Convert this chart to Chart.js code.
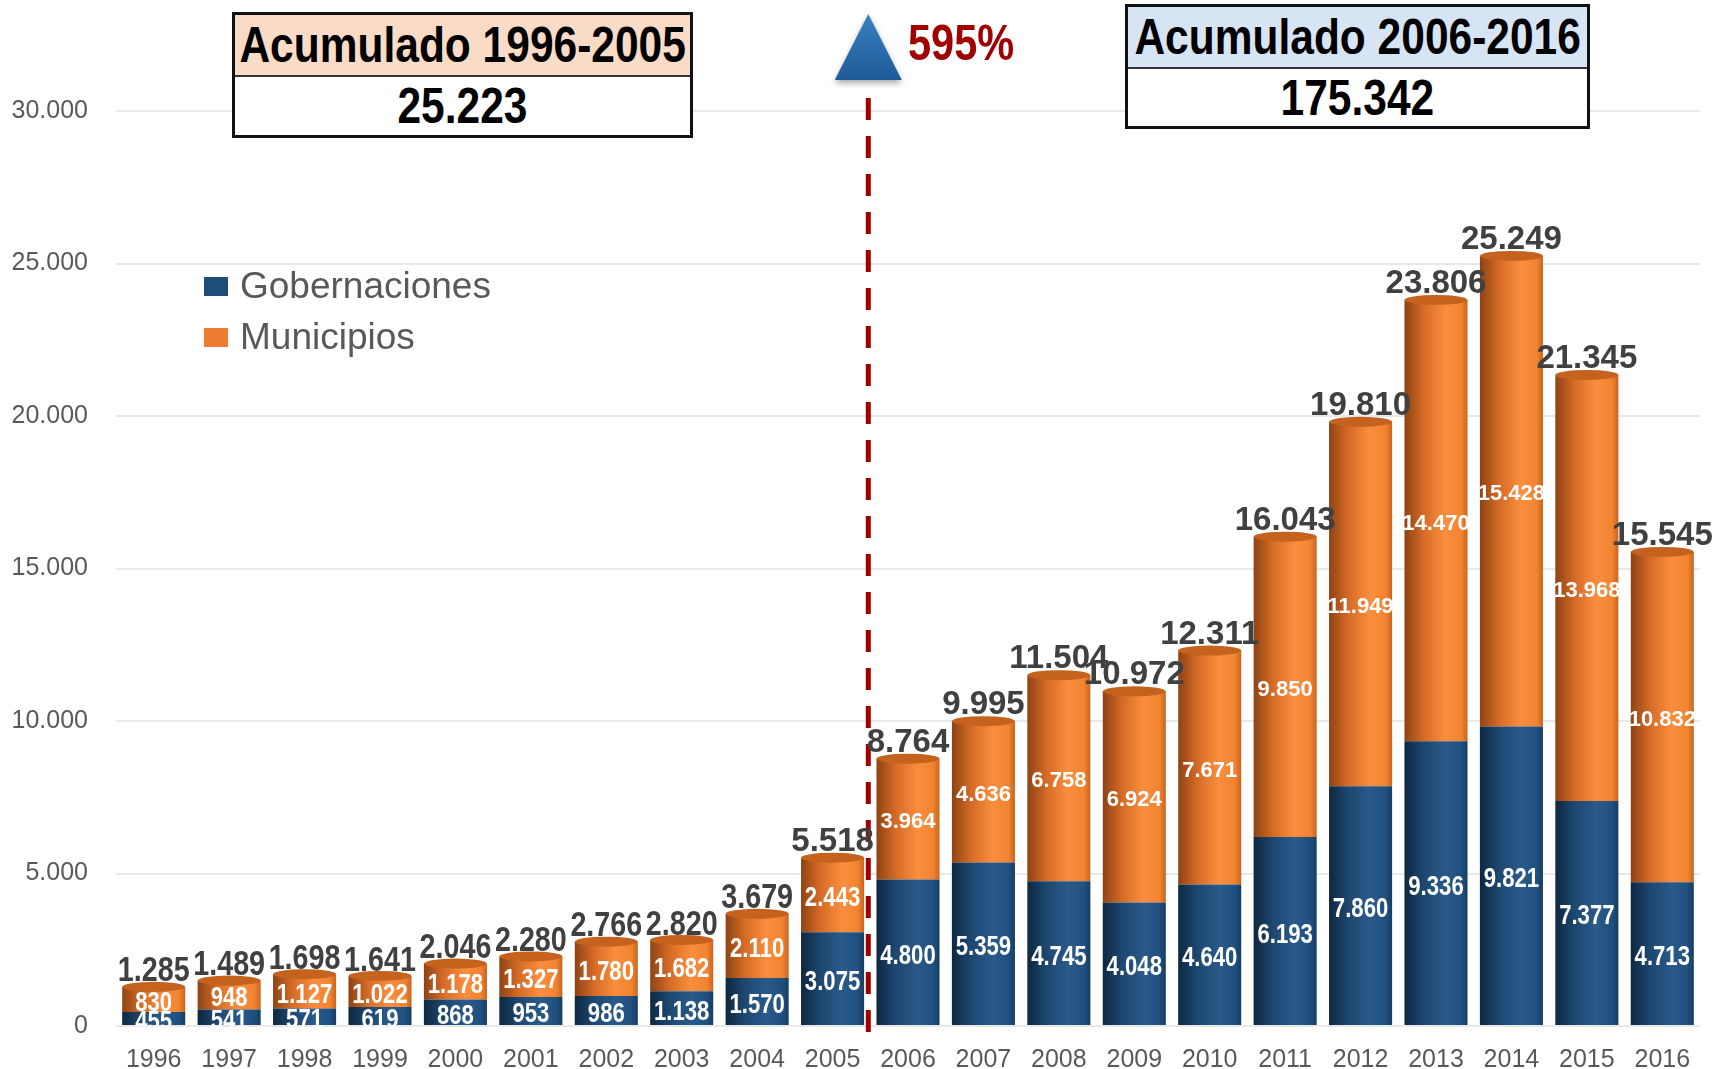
<!DOCTYPE html>
<html>
<head>
<meta charset="utf-8">
<title>Gobernaciones y Municipios 1996-2016</title>
<script src="https://cdn.jsdelivr.net/npm/chart.js@4.4.1/dist/chart.umd.min.js"></script>
<style>
  body { margin: 0; background: #fff; }
  #wrap { position: relative; width: 1727px; height: 1069px; overflow: hidden; }
  #chart { position: absolute; left: 0; top: 0; }
  .box {
    position: absolute; box-sizing: border-box; border: 3px solid #111; background: #fff;
    font-family: 'Liberation Sans', Arial, sans-serif;
    font-weight: bold; color: #000; white-space: nowrap;
  }
  .box .head, .box .val { display: flex; justify-content: center; align-items: center; font-size: 50px; }
  .box .head { height: 60px; border-bottom: 2px solid #333; }
  .box .val { height: 58px; }
  .narrow { display: inline-block; transform: scaleX(0.85); transform-origin: center; }
  #pct {
    position: absolute; left: 908px; top: 14px; font-size: 50px; font-weight: bold; color: #A00000;
    font-family: 'Liberation Sans', Arial, sans-serif; transform: scaleX(0.83); transform-origin: left center;
  }
  .leg { position: absolute; left: 204px; font-family: 'Liberation Sans', Arial, sans-serif; font-size: 37px; color: #595959; }
  .leg span { display: inline-block; width: 24px; height: 19px; margin-right: 12px; vertical-align: 2px; }
</style>
</head>
<body>
<div id="wrap">
  <canvas id="chart" width="1727" height="1069"></canvas>

  <div class="box" style="left:232px; top:12px; width:461px; height:126px;">
    <div class="head" style="background:#FADBC5;"><span class="narrow">Acumulado 1996-2005</span></div>
    <div class="val"><span class="narrow">25.223</span></div>
  </div>
  <div class="box" style="left:1125px; top:4px; width:465px; height:125px;">
    <div class="head" style="background:#D6E4F4;"><span class="narrow">Acumulado 2006-2016</span></div>
    <div class="val"><span class="narrow">175.342</span></div>
  </div>
  <div id="pct">595%</div>

  <div class="leg" style="top:265px;"><span style="background:#1F4E79;"></span>Gobernaciones</div>
  <div class="leg" style="top:316px;"><span style="background:#ED7D31;"></span>Municipios</div>
</div>

<script>
// years on the x axis
const years = ['1996', '1997', '1998', '1999', '2000', '2001', '2002', '2003', '2004', '2005',
               '2006', '2007', '2008', '2009', '2010', '2011', '2012', '2013', '2014', '2015', '2016'];

// Gobernaciones (bottom, blue)
const gobernaciones = [455, 541, 571, 619, 868, 953, 986, 1138, 1570, 3075,
                       4800, 5359, 4745, 4048, 4640, 6193, 7860, 9336, 9821, 7377, 4713];

// Municipios (top, orange)
const municipios = [830, 948, 1127, 1022, 1178, 1327, 1780, 1682, 2110, 2443,
                    3964, 4636, 6758, 6924, 7671, 9850, 11949, 14470, 15428, 13968, 10832];

// totals written above each bar
const totales = [1285, 1489, 1698, 1641, 2046, 2280, 2766, 2820, 3679, 5518,
                 8764, 9995, 11504, 10972, 12311, 16043, 19810, 23806, 25249, 21345, 15545];

const yTicks = [0, 5000, 10000, 15000, 20000, 25000, 30000];

const BAR_PCT = 0.836;
const SANS = '"Liberation Sans", Arial, sans-serif';

function fmt(v) {
  return String(v).replace(/\B(?=(\d{3})+(?!\d))/g, '.');
}

// no narrow font installed, so squeeze the normal one
function drawText(ctx, text, x, y, font, squeeze) {
  ctx.save();
  ctx.translate(x, y);
  ctx.scale(squeeze, 1);
  ctx.font = font;
  ctx.fillText(text, 0, 0);
  ctx.restore();
}

// horizontal gradient across one bar so it looks like a cylinder
function cylinder(stops, flat) {
  return function (c) {
    const chart = c.chart;
    const xs = chart.scales.x;
    if (!xs || !xs.width) return flat;
    const cx = xs.getPixelForValue(c.dataIndex);
    const half = xs.width / years.length * BAR_PCT / 2;
    const g = chart.ctx.createLinearGradient(cx - half, 0, cx + half, 0);
    stops.forEach(s => g.addColorStop(s[0], s[1]));
    return g;
  };
}

const blueStops = [[0, '#0E2740'], [0.3, '#1D4770'], [0.65, '#2A5A8A'], [0.9, '#20507E'], [1, '#173D62']];
const orangeStops = [[0, '#8E4314'], [0.3, '#D46A26'], [0.65, '#FA8E3E'], [0.9, '#F2842F'], [1, '#C9641F']];

const annotations = {
  id: 'annotations',
  afterDatasetsDraw(chart) {
    const ctx = chart.ctx;
    const xs = chart.scales.x;
    const blue = chart.getDatasetMeta(0).data;
    const orange = chart.getDatasetMeta(1).data;

    // rim at the top of every cylinder
    orange.forEach(el => {
      ctx.save();
      ctx.beginPath();
      ctx.ellipse(el.x, el.y, el.width / 2, 5, 0, 0, Math.PI * 2);
      ctx.fillStyle = '#C4621E';
      ctx.fill();
      ctx.restore();
    });

    // dashed separator between 2005 and 2006
    const lx = (xs.getPixelForValue(9) + xs.getPixelForValue(10)) / 2 - 2;
    ctx.save();
    ctx.strokeStyle = '#A00000';
    ctx.lineWidth = 5;
    ctx.setLineDash([22, 16]);
    ctx.beginPath();
    ctx.moveTo(lx, 98);
    ctx.lineTo(lx, 1036);
    ctx.stroke();
    ctx.restore();

    // triangle on top of the separator
    ctx.save();
    ctx.shadowColor = 'rgba(0,0,0,0.35)';
    ctx.shadowBlur = 6;
    ctx.shadowOffsetY = 3;
    const tg = ctx.createLinearGradient(0, 14, 0, 80);
    tg.addColorStop(0, '#3A80C0');
    tg.addColorStop(1, '#1D5A96');
    ctx.fillStyle = tg;
    ctx.beginPath();
    ctx.moveTo(lx, 14);
    ctx.lineTo(lx + 33.5, 80);
    ctx.lineTo(lx - 33.5, 80);
    ctx.closePath();
    ctx.fill();
    ctx.restore();

    // value labels
    ctx.save();
    ctx.textAlign = 'center';
    ctx.textBaseline = 'middle';
    ctx.fillStyle = '#fff';
    blue.forEach((el, i) => {
      drawText(ctx, fmt(gobernaciones[i]), el.x, (el.y + el.base) / 2 + 4, 'bold 27px ' + SANS, 0.82);
    });
    orange.forEach((el, i) => {
      if (i >= 10) {
        drawText(ctx, fmt(municipios[i]), el.x, (el.y + el.base) / 2 + 3, 'bold 22px ' + SANS, 1);
      } else {
        drawText(ctx, fmt(municipios[i]), el.x, (el.y + el.base) / 2 + 4, 'bold 27px ' + SANS, 0.82);
      }
    });
    ctx.fillStyle = '#404040';
    orange.forEach((el, i) => {
      if (i >= 9) {
        drawText(ctx, fmt(totales[i]), el.x, el.y - 16, 'bold 33px ' + SANS, 1);
      } else {
        drawText(ctx, fmt(totales[i]), el.x, el.y - 15, 'bold 35px ' + SANS, 0.82);
      }
    });
    ctx.restore();
  }
};

new Chart(document.getElementById('chart'), {
  type: 'bar',
  data: {
    labels: years,
    datasets: [
      {
        label: 'Gobernaciones',
        data: gobernaciones,
        backgroundColor: cylinder(blueStops, '#1F4E79'),
        borderWidth: 0,
        barPercentage: BAR_PCT,
        categoryPercentage: 1
      },
      {
        label: 'Municipios',
        data: municipios,
        backgroundColor: cylinder(orangeStops, '#ED7D31'),
        borderWidth: 0,
        barPercentage: BAR_PCT,
        categoryPercentage: 1
      }
    ]
  },
  options: {
    responsive: false,
    animation: false,
    layout: { padding: { top: 111, right: 27, left: 0, bottom: 0 } },
    plugins: { legend: { display: false }, tooltip: { enabled: false } },
    scales: {
      x: {
        stacked: true,
        grid: { display: false, drawTicks: false },
        border: { display: false },
        ticks: { color: '#595959', font: { family: SANS, size: 25 }, padding: 19, maxRotation: 0, autoSkip: false },
        afterFit: s => { s.height = 41; }
      },
      y: {
        stacked: true,
        min: 0,
        max: 30000,
        afterBuildTicks: s => { s.ticks = yTicks.map(v => ({ value: v })); },
        ticks: { color: '#595959', font: { family: SANS, size: 25 }, padding: 28, callback: v => fmt(v) },
        grid: { color: '#E8E8E8', lineWidth: 2, drawTicks: false },
        border: { display: false },
        afterFit: s => { s.width = 116; }
      }
    }
  },
  plugins: [annotations]
});
</script>
</body>
</html>
